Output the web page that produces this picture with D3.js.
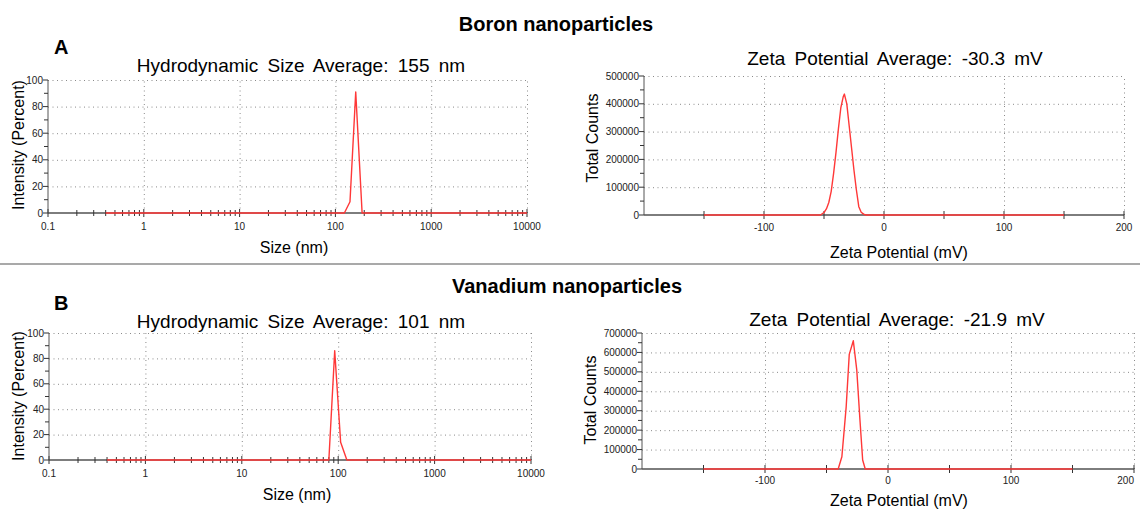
<!DOCTYPE html>
<meta charset="utf-8">
<head>
<style>
  body { margin: 0; background: #fff; }
  svg { display: block; font-family: "Liberation Sans", Arial, sans-serif; }
  .tick-label { font-size: 10px; fill: #222; }
  .grid line { stroke: #8a8a8a; stroke-width: 1; stroke-dasharray: 1,3.5; }
  .grid path { display: none; }
</style>
</head>
<body>
<div class="chart"></div>
<script src="https://d3js.org/d3.v7.min.js" charset="utf-8"></script>
<script>
// tick values
const sizeTickValues = [0.1, 1, 10, 100, 1000, 10000];
const percentTicks = [0, 20, 40, 60, 80, 100];
const zetaTickLabels = [-100, 0, 100, 200];
const zetaMajorTicks = [-150, -100, -50, 0, 50, 100, 150, 200];
const boronCountTicks = [0, 100000, 200000, 300000, 400000, 500000];
const vanadiumCountTicks = [0, 100000, 200000, 300000, 400000, 500000, 600000, 700000];

// boron
const boronSizeNm = [0.4, 124, 142, 163, 190, 10000];
const boronSizeIntensity = [0, 0, 8.5, 91, 0, 0];
const boronZetaMv = [-150, -53, -50, -48, -46, -44, -42, -40, -38, -36, -34, -33, -31, -29, -27, -25, -23, -21, -19, -17, -15, 150];
const boronZetaCounts = [0, 0, 9000, 22000, 45000, 85000, 150000, 225000, 310000, 385000, 425000, 435000, 400000, 320000, 240000, 160000, 90000, 30000, 10000, 3000, 0, 0];

// vanadium
const vanadiumSizeNm = [0.4, 80, 92, 106, 123, 10000];
const vanadiumSizeIntensity = [0, 0, 86, 14, 0, 0];
const vanadiumZetaMv = [-150, -40.5, -37.5, -34, -31.5, -28.2, -25.4, -22.8, -20.6, -18.5, 150];
const vanadiumZetaCounts = [0, 0, 63000, 320000, 590000, 660000, 510000, 252000, 46000, 0, 0];

const svg = d3.select('.chart')
  .append('svg')
  .attr('width', 1140)
  .attr('height', 510);

// headings
svg.append('text').attr('x', 556).attr('y', 31).attr('text-anchor', 'middle')
  .style('font-size', '20px').style('font-weight', 'bold').text('Boron nanoparticles');
svg.append('text').attr('x', 567).attr('y', 293).attr('text-anchor', 'middle')
  .style('font-size', '20px').style('font-weight', 'bold').text('Vanadium nanoparticles');
svg.append('text').attr('x', 54).attr('y', 54)
  .style('font-size', '20px').style('font-weight', 'bold').text('A');
svg.append('text').attr('x', 54).attr('y', 310)
  .style('font-size', '20px').style('font-weight', 'bold').text('B');

svg.append('line')
  .attr('x1', 0).attr('x2', 1140).attr('y1', 264).attr('y2', 264)
  .attr('stroke', '#8c8c8c').attr('stroke-width', 1.5);

function drawPanel(p) {
  const g = svg.append('g');
  const x = (p.log ? d3.scaleLog() : d3.scaleLinear()).domain(p.xDomain).range([p.left, p.right]);
  const y = d3.scaleLinear().domain(p.yDomain).range([p.bottom, p.top]);

  // grid
  g.append('g').attr('class', 'grid')
    .attr('transform', `translate(0,${p.bottom})`)
    .call(d3.axisBottom(x).tickValues(p.gridX).tickSize(-(p.bottom - p.top)).tickFormat(''));
  g.append('g').attr('class', 'grid')
    .attr('transform', `translate(${p.left},0)`)
    .call(d3.axisLeft(y).tickValues(p.yTicks.slice(1)).tickSize(-(p.right - p.left)).tickFormat(''));

  // x axis line
  g.append('line')
    .attr('x1', p.left).attr('x2', p.right).attr('y1', p.bottom).attr('y2', p.bottom)
    .attr('stroke', '#7d7d7d').attr('stroke-width', 2);

  // x ticks
  g.selectAll('.xmajor').data(p.xMajor).enter().append('line')
    .attr('x1', d => x(d)).attr('x2', d => x(d))
    .attr('y1', p.bottom - 4).attr('y2', p.bottom + 4)
    .attr('stroke', '#333').attr('stroke-width', 1);
  g.selectAll('.xminor').data(p.xMinor).enter().append('line')
    .attr('x1', d => x(d)).attr('x2', d => x(d))
    .attr('y1', p.bottom - 3).attr('y2', p.bottom + 3)
    .attr('stroke', '#333').attr('stroke-width', 1);
  g.selectAll('.xlab').data(p.xLabels).enter().append('text')
    .attr('class', 'tick-label')
    .attr('x', d => Math.min(x(d), 1139))
    .attr('y', p.xLabelY)
    .attr('text-anchor', d => x(d) + 9 > 1140 ? 'end' : 'middle')
    .text(d => d);

  // y axis
  g.append('line')
    .attr('x1', p.left).attr('x2', p.left).attr('y1', p.top).attr('y2', p.bottom)
    .attr('stroke', '#555').attr('stroke-width', 1);
  g.selectAll('.ymajor').data(p.yTicks).enter().append('line')
    .attr('x1', p.left - 5).attr('x2', p.left)
    .attr('y1', d => y(d)).attr('y2', d => y(d))
    .attr('stroke', '#333');
  g.selectAll('.yminor').data(p.yTicks.slice(1).map(d => d - p.yStep / 2)).enter().append('line')
    .attr('x1', p.left - 4).attr('x2', p.left)
    .attr('y1', d => y(d)).attr('y2', d => y(d))
    .attr('stroke', '#333');
  g.selectAll('.ylab').data(p.yTicks).enter().append('text')
    .attr('class', 'tick-label')
    .attr('x', p.left - 5).attr('y', d => y(d) + 3.5)
    .attr('text-anchor', 'end')
    .text(d => d);

  // data
  const line = d3.line().x(d => x(d[0])).y(d => y(d[1]));
  g.append('path')
    .datum(d3.zip(p.xs, p.ys))
    .attr('d', line)
    .attr('fill', 'none')
    .attr('stroke', '#ff3838')
    .attr('stroke-width', 1.4)
    .attr('stroke-linejoin', 'round');

  // titles
  g.append('text').attr('x', p.titleX).attr('y', p.titleY).attr('text-anchor', 'middle')
    .style('font-size', '19px').style('word-spacing', '4px').text(p.title);
  g.append('text').attr('x', p.xTitleX).attr('y', p.xTitleY).attr('text-anchor', 'middle')
    .style('font-size', '16px').text(p.xTitle);
  g.append('text')
    .attr('transform', `translate(${p.yTitleX},${p.yTitleY}) rotate(-90)`)
    .attr('text-anchor', 'middle')
    .style('font-size', '16px').text(p.yTitle);
}

const logMinor = [];
[0.1, 1, 10, 100, 1000].forEach(dec => { for (let k = 2; k <= 9; k++) logMinor.push(dec * k); });

function sizePanel(o) {
  return Object.assign({
    log: true,
    xDomain: [0.1, 10000],
    yDomain: [0, 100],
    gridX: sizeTickValues.slice(1),
    xMajor: sizeTickValues,
    xMinor: logMinor,
    xLabels: sizeTickValues,
    yTicks: percentTicks,
    yStep: 20,
    xTitle: 'Size (nm)',
    yTitle: 'Intensity (Percent)'
  }, o);
}

function zetaPanel(o) {
  return Object.assign({
    log: false,
    xDomain: [-200, 200],
    gridX: zetaTickLabels,
    xMajor: zetaMajorTicks,
    xMinor: [],
    xLabels: zetaTickLabels,
    yStep: 100000,
    xTitle: 'Zeta Potential (mV)',
    yTitle: 'Total Counts'
  }, o);
}

drawPanel(sizePanel({
  left: 48, right: 527, top: 80, bottom: 213,
  xLabelY: 230, titleX: 301, titleY: 72, xTitleX: 294, xTitleY: 253,
  yTitleX: 24, yTitleY: 145,
  title: 'Hydrodynamic Size Average: 155 nm',
  xs: boronSizeNm, ys: boronSizeIntensity
}));

drawPanel(zetaPanel({
  left: 644, right: 1124, top: 76, bottom: 215,
  yDomain: [0, 500000], yTicks: boronCountTicks,
  xLabelY: 231, titleX: 895, titleY: 65, xTitleX: 899, xTitleY: 258,
  yTitleX: 598, yTitleY: 138,
  title: 'Zeta Potential Average: -30.3 mV',
  xs: boronZetaMv, ys: boronZetaCounts
}));

drawPanel(sizePanel({
  left: 49, right: 531, top: 333, bottom: 460,
  xLabelY: 477, titleX: 301, titleY: 328, xTitleX: 297, xTitleY: 500,
  yTitleX: 24, yTitleY: 396,
  title: 'Hydrodynamic Size Average: 101 nm',
  xs: vanadiumSizeNm, ys: vanadiumSizeIntensity
}));

drawPanel(zetaPanel({
  left: 642, right: 1134, top: 333, bottom: 469,
  yDomain: [0, 700000], yTicks: vanadiumCountTicks,
  xLabelY: 484, titleX: 897, titleY: 326, xTitleX: 899, xTitleY: 506,
  yTitleX: 596, yTitleY: 400,
  title: 'Zeta Potential Average: -21.9 mV',
  xs: vanadiumZetaMv, ys: vanadiumZetaCounts
}));
</script>
</body>
